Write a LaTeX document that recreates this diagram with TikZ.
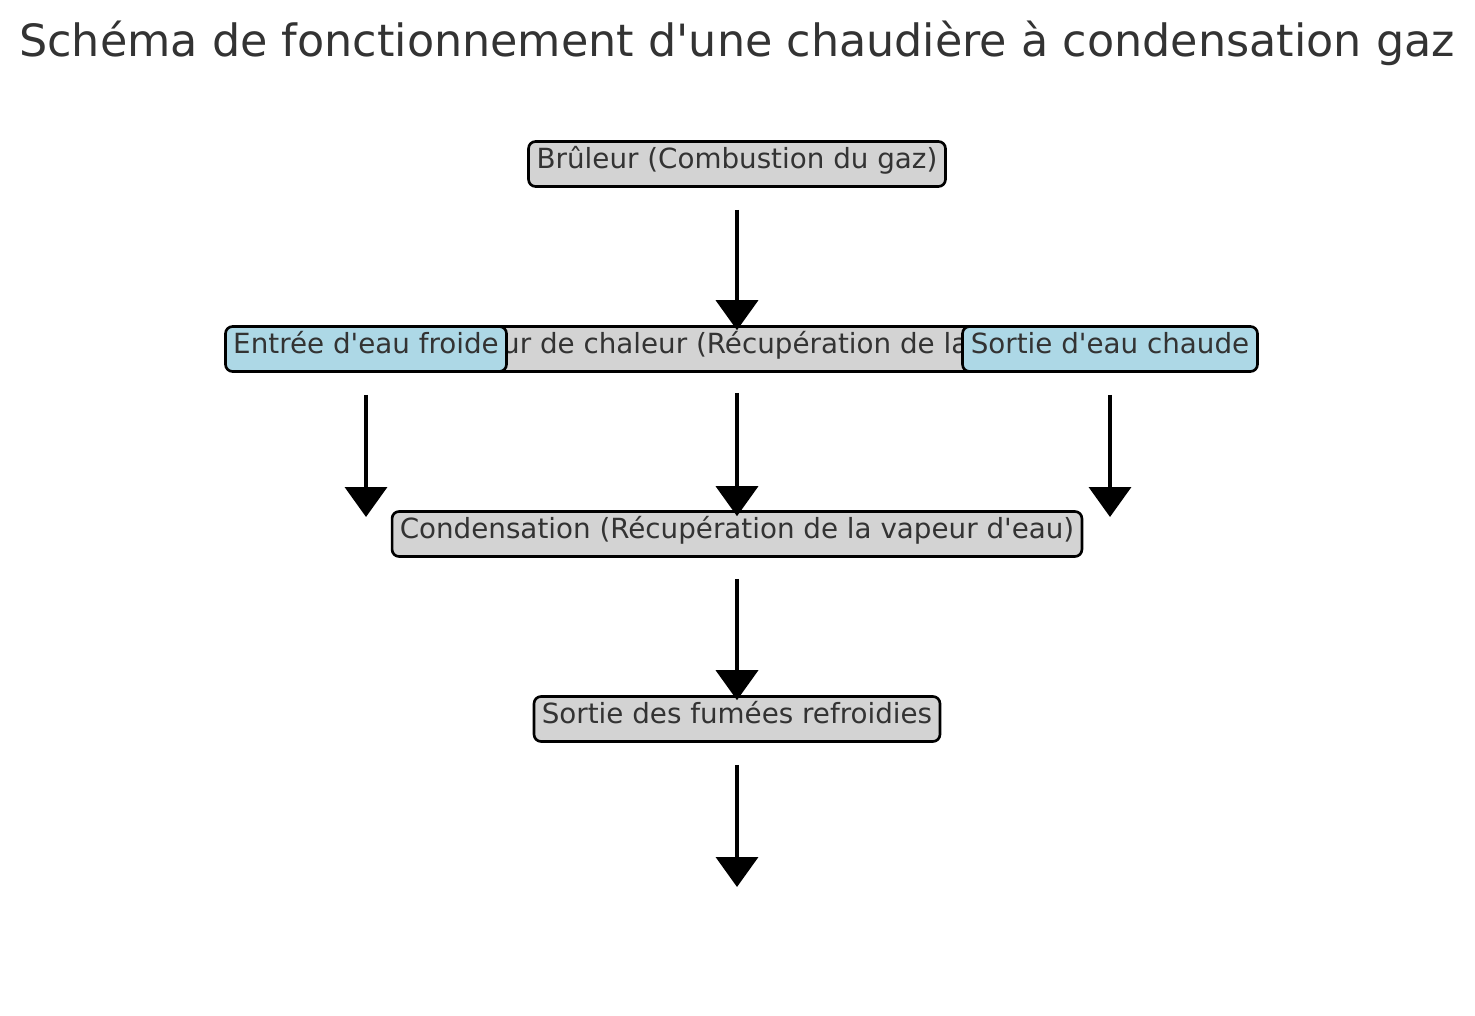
\documentclass[tikz,border=0pt]{standalone}
\usepackage{fontspec}
\setmainfont{DejaVu Sans}
\usetikzlibrary{arrows.meta}
\definecolor{boxgray}{RGB}{211,211,211}
\definecolor{boxblue}{RGB}{173,216,230}
\definecolor{txt}{RGB}{51,51,51}
\newcommand{\apos}{\textquotesingle}
\tikzset{
	stage/.style={draw=black, line width=1.5pt, rounded corners=4pt, fill=boxgray, text=txt,
		font=\fontsize{15.8}{18}\selectfont, inner sep=0pt, text height=10.3pt, text depth=4.7pt,
		minimum height=0.9cm},
	water/.style={stage, fill=boxblue},
	flow/.style={line width=2.2pt, -{Triangle[width=0.84cm, length=0.6cm]}}
}
\begin{document}
\begin{tikzpicture}[x=0.02cm, y=-0.02cm]
	\useasboundingbox (0,0) rectangle (1475,1016);
	\node[text=txt, font=\fontsize{25.3}{30}\selectfont] (title) at (737,43) {Schéma de fonctionnement d\apos une chaudière à condensation gaz};

	\node[stage, minimum width=8.34cm] (burner) at (737,164) {Brûleur (Combustion du gaz)};
	\node[stage, minimum width=14.56cm] (exchanger) at (737,349) {Échangeur de chaleur (Récupération de la chaleur)};
	\node[water, minimum width=5.62cm] (coldin) at (366,349) {Entrée d\apos eau froide};
	\node[water, minimum width=5.9cm] (hotout) at (1110,349) {Sortie d\apos eau chaude};
	\node[stage, minimum width=13.8cm] (condens) at (737,534) {Condensation (Récupération de la vapeur d\apos eau)};
	\node[stage, minimum width=8.12cm] (smoke) at (737,719) {Sortie des fumées refroidies};

	% free ends of the last row of arrows
	\coordinate (coldend) at (366,517);
	\coordinate (hotend) at (1110,517);
	\coordinate (smokeend) at (737,887);

	\draw[flow] (burner.south) ++(0,22) -- ([yshift=-0.1cm]exchanger.north);
	\draw[flow] (exchanger.south) ++(0,20) -- ([yshift=-0.12cm]condens.north);
	\draw[flow] (coldin.south) ++(0,22) -- (coldend);
	\draw[flow] (hotout.south) ++(0,22) -- (hotend);
	\draw[flow] (condens.south) ++(0,21) -- ([yshift=-0.1cm]smoke.north);
	\draw[flow] (smoke.south) ++(0,22) -- (smokeend);
\end{tikzpicture}
\end{document}
